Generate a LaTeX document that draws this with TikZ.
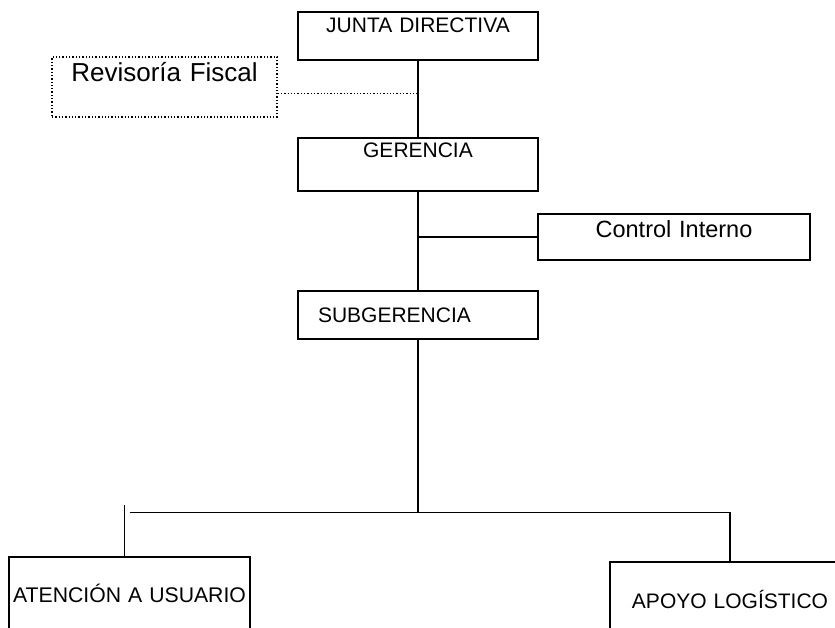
\documentclass[tikz,border=0pt]{standalone}
\usepackage{fontspec}
\setmainfont{Liberation Sans}
\usepackage{tikz}
\usetikzlibrary{positioning}

\newcommand{\letra}[1]{\fontsize{#1}{#1}\selectfont}
\tikzset{
  caja/.style={draw, rectangle, inner sep=0pt, align=center},
}

\begin{document}
\begin{tikzpicture}[line width=1.3pt,node distance=1.5cm,on grid]
\useasboundingbox (0,0) rectangle (835pt,-628pt);
\clip (0,0) rectangle (835pt,-628pt);
\node[caja,text width=240pt,text height=21pt,text depth=27pt,font=\letra{21}] (junta) at (418pt,-36pt) {JUNTA DIRECTIVA};
\node[caja,dotted,text width=225pt,text height=25pt,text depth=35pt,font=\letra{26}] (revisoria) [below left = 51pt and 253.5pt of junta] {Revisoría Fiscal};
\node[caja,text width=240pt,text height=20pt,text depth=33pt,font=\letra{21}] (gerencia) [below = 128.5pt of junta] {GERENCIA};
\node[caja,text width=272pt,text height=24pt,text depth=22pt,font=\letra{23.5}] (control) [below right = 72.5pt and 256pt of gerencia] {Control Interno};
\node[caja,inner xsep=20pt,align=left,text width=200pt,text height=31pt,text depth=17pt,font=\letra{21}] (subgerencia) [below = 150.5pt of gerencia] {SUBGERENCIA};
\node[caja,text width=241pt,text height=45pt,text depth=60pt,font=\letra{21.2}] (atencion) [below left = 294.5pt and 288.5pt of subgerencia] {ATENCIÓN A USUARIO};
\node[caja,text width=240pt,text height=46pt,text depth=60pt,font=\letra{21}] (apoyo) [below right = 300pt and 312pt of subgerencia] {APOYO LOGÍSTICO};
% lineas
\coordinate (rf) at ([yshift=-33pt]junta.south);
\coordinate (bus) at ([yshift=-173pt]subgerencia.south);
\draw (junta.south) -- (gerencia.north);
\draw[dotted] (revisoria.east |- rf) -- (rf);
\draw (gerencia.south) -- (subgerencia.north);
\draw (control.west) -- (control.west -| gerencia.south);
\draw (subgerencia.south) -- (bus);
\draw (atencion.north |- bus) -- (apoyo.north |- bus) -- (apoyo.north);
\draw ([xshift=-5pt]atencion.north) -- ++(0,51pt);
\end{tikzpicture}
\end{document}
